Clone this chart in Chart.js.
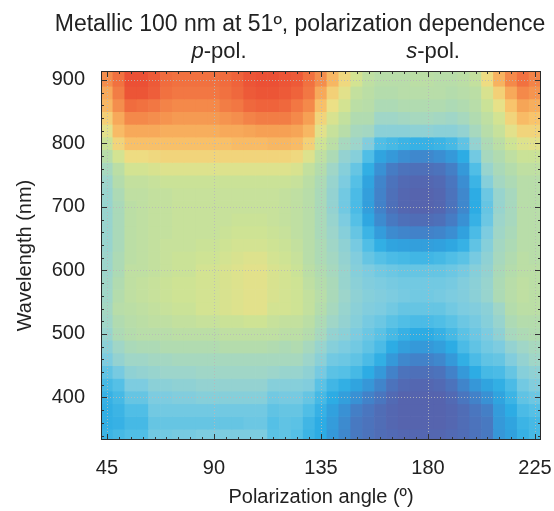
<!DOCTYPE html>
<html>
<head>
<meta charset="utf-8">
<script src="https://cdn.jsdelivr.net/npm/chart.js@4.4.1/dist/chart.umd.min.js"></script>
<style>
  html, body { margin: 0; padding: 0; background: #fff; }
  #wrap { width: 554px; height: 511px; position: relative; }
</style>
</head>
<body>
<div id="wrap"><canvas id="chart"></canvas></div>
<script>
// polarization angle of each column (deg), 5 deg wide cells
const angles = [45, 50, 55, 60, 65, 70, 75, 80, 85, 90, 95, 100, 105, 110, 115, 120, 125, 130,
  135, 140, 145, 150, 155, 160, 165, 170, 175, 180, 185, 190, 195, 200, 205, 210, 215, 220, 225];
// wavelength of each row (nm), 20 nm tall cells
const wavelengths = [900, 880, 860, 840, 820, 800, 780, 760, 740, 720, 700, 680, 660, 640, 620,
  600, 580, 560, 540, 520, 500, 480, 460, 440, 420, 400, 380, 360, 340];
const intensity = [
  [85,90,97,97,95,91,90,90,90,90,91,93,96,97,97,96,95,90,85,77,69,62,57,55,55,55,56,56,55,55,56,58,68,78,86,90,87],
  [80,88,96,96,94,90,89,89,89,89,90,92,95,96,96,95,93,89,80,71,65,58,56,54,54,55,55,55,55,54,55,56,63,71,80,86,84],
  [77,85,91,90,89,87,86,86,86,86,88,89,92,93,93,92,89,86,75,67,62,56,55,52,52,53,53,53,53,52,53,55,60,66,74,81,79],
  [71,80,86,86,85,84,83,83,83,83,84,85,87,88,88,88,86,82,70,63,58,53,53,48,48,49,50,50,49,48,50,53,57,62,70,76,74],
  [65,76,80,80,80,79,79,79,79,79,80,80,81,82,82,82,81,77,65,59,55,50,49,43,43,43,44,44,43,43,45,50,55,59,65,70,70],
  [60,70,75,75,75,75,75,75,75,75,75,76,76,76,77,77,76,71,61,56,50,47,41,32,30,28,27,27,28,30,35,45,52,56,61,64,65],
  [55,62,68,68,69,70,70,70,70,70,70,70,70,70,70,70,69,64,57,52,45,42,32,22,18,14,12,12,14,18,25,38,50,53,57,60,60],
  [50,56,62,62,63,64,64,64,64,64,64,64,64,64,64,64,63,58,54,48,42,36,26,15,8,5,4,4,5,9,18,32,46,51,54,57,57],
  [47,54,58,58,59,60,60,60,60,60,60,60,60,60,60,60,59,56,52,46,40,33,22,11,5,2,1,1,2,6,14,28,42,49,52,55,55],
  [46,52,57,57,58,58,59,59,59,59,59,59,59,59,59,58,57,55,51,45,38,31,20,10,4,1,0,0,1,5,12,25,37,46,50,55,55],
  [46,51,56,57,58,58,59,59,59,59,59,59,59,59,59,58,57,55,51,45,38,31,20,10,4,1,0,0,1,5,12,25,36,46,50,55,55],
  [46,51,56,57,58,58,59,59,59,59,59,60,60,60,59,58,57,55,51,46,40,33,23,13,7,4,3,3,4,8,15,27,37,47,50,55,55],
  [46,51,56,57,58,58,59,59,59,59,60,61,61,61,60,59,57,55,51,47,42,36,28,19,13,11,10,10,11,14,21,31,40,48,51,55,55],
  [46,51,56,57,58,59,59,59,60,60,61,62,62,62,61,60,58,55,52,48,44,39,32,26,22,21,20,20,21,23,27,35,42,49,52,55,55],
  [47,52,56,57,58,59,60,60,61,61,62,63,64,64,62,61,59,55,52,49,45,41,36,33,31,30,29,29,30,32,34,39,44,50,53,56,55],
  [47,52,57,57,58,59,60,60,62,62,63,64,65,65,63,62,60,56,53,50,46,42,40,38,37,36,36,36,36,37,39,42,45,51,54,56,56],
  [48,53,57,58,59,60,61,61,62,62,63,64,65,65,63,62,61,57,54,51,46,43,41,40,39,38,38,38,38,39,41,43,46,52,55,57,56],
  [48,54,57,58,59,60,61,61,62,62,63,64,65,65,63,62,61,58,55,51,47,44,42,41,40,39,38,38,39,40,41,43,46,52,55,57,56],
  [49,55,56,57,58,59,60,60,62,62,63,64,65,65,62,62,61,58,54,50,46,43,41,40,38,36,36,36,36,38,40,41,43,48,54,56,56],
  [48,53,55,56,57,57,58,58,59,59,60,60,61,61,59,58,58,56,52,48,45,42,39,37,34,32,31,31,32,34,37,39,42,46,52,54,54],
  [46,52,54,55,55,55,56,56,56,56,57,57,57,57,57,56,56,54,50,45,43,40,37,34,30,27,25,25,27,30,34,37,40,44,50,52,53],
  [43,48,51,52,52,53,53,53,53,53,54,54,54,54,53,52,53,50,46,42,40,38,35,31,25,20,18,18,20,25,31,35,38,40,45,48,50],
  [40,45,48,48,49,49,50,50,50,50,50,50,50,50,50,50,50,47,43,38,37,35,31,26,18,12,10,10,12,18,26,31,35,36,41,45,48],
  [35,39,44,45,46,47,47,47,48,48,48,48,48,48,47,46,46,44,39,34,33,30,25,18,10,5,4,4,5,10,18,25,30,31,36,42,44],
  [30,33,40,40,43,43,44,44,45,45,45,45,45,45,42,42,42,41,34,29,26,22,17,11,5,2,1,1,2,5,11,17,22,26,31,38,41],
  [27,30,36,36,40,40,41,41,42,42,42,42,42,42,38,39,39,36,30,25,20,15,10,6,2,0,0,0,0,2,6,10,15,22,28,35,37],
  [26,28,32,32,38,38,38,38,38,38,38,38,38,38,35,36,36,32,27,21,15,9,6,3,1,0,0,0,0,1,3,6,9,19,25,31,33],
  [26,27,30,30,36,36,36,36,36,36,36,36,37,37,33,35,34,29,25,19,13,7,5,3,1,0,0,0,0,1,3,5,7,18,22,28,30],
  [28,30,32,32,38,38,39,39,40,40,40,40,40,40,34,35,33,28,25,18,12,7,5,3,2,1,1,1,1,2,3,5,7,17,21,27,30]
];
const xTicks = [45, 90, 135, 180, 225];
const yTicks = [400, 500, 600, 700, 800, 900];
const polLabels = [{ angle: 90, lead: 'p', rest: '-pol.' }, { angle: 180, lead: 's', rest: '-pol.' }];

const FONT = "'Liberation Sans', Arial, Helvetica, sans-serif";
const TEXT = '#222';

// colour scale, dark blue -> cyan -> green -> yellow -> red
const STOPS = [
  [0, [86, 100, 174]], [8, [70, 124, 196]], [16, [55, 148, 214]], [25, [45, 172, 228]],
  [33, [85, 192, 230]], [40, [125, 204, 224]], [47, [157, 213, 203]], [54, [180, 220, 172]],
  [61, [206, 227, 148]], [67, [236, 224, 134]], [74, [248, 196, 108]], [82, [246, 160, 84]],
  [90, [241, 113, 64]], [100, [233, 66, 48]]
];

function colorFor(v) {
  for (let i = 1; i < STOPS.length; i++) {
    if (v <= STOPS[i][0]) {
      const [v0, c0] = STOPS[i - 1];
      const [v1, c1] = STOPS[i];
      const t = (v - v0) / (v1 - v0);
      const c = c0.map((ch, k) => Math.round(ch + (c1[k] - ch) * t));
      return `rgb(${c[0]},${c[1]},${c[2]})`;
    }
  }
  const last = STOPS[STOPS.length - 1][1];
  return `rgb(${last[0]},${last[1]},${last[2]})`;
}

const datasets = wavelengths.map((w, r) => ({
  data: angles.map((a) => ({ x: a, y: [w - 10, r === 0 ? 920 : w + 10] })),
  backgroundColor: intensity[r].map(colorFor),
  borderWidth: 0,
  barPercentage: 1,
  categoryPercentage: 1,
  grouped: false
}));

const frame = {
  id: 'frame',
  afterDatasetsDraw(chart) {
    const { ctx, chartArea: a, scales: { x, y } } = chart;
    const line = (x1, y1, x2, y2) => {
      ctx.beginPath();
      ctx.moveTo(x1, y1);
      ctx.lineTo(x2, y2);
      ctx.stroke();
    };
    ctx.save();
    ctx.lineWidth = 1;

    // dotted grid over the map
    ctx.strokeStyle = 'rgba(185,185,185,0.85)';
    ctx.setLineDash([1, 2]);
    xTicks.forEach((v) => {
      const px = Math.round(x.getPixelForValue(v)) + 0.5;
      line(px, a.top, px, a.bottom);
    });
    yTicks.forEach((v) => {
      const py = Math.round(y.getPixelForValue(v)) + 0.5;
      line(a.left, py, a.right, py);
    });

    // inward tick marks
    ctx.setLineDash([]);
    ctx.strokeStyle = '#333';
    for (let v = 45; v <= 225; v += 5) {
      const len = xTicks.includes(v) ? 6 : 3;
      const px = Math.round(x.getPixelForValue(v)) + 0.5;
      line(px, a.top, px, a.top + len);
      line(px, a.bottom, px, a.bottom - len);
    }
    for (let v = 340; v <= 900; v += 20) {
      const len = v % 100 === 0 ? 6 : 3;
      const py = Math.round(y.getPixelForValue(v)) + 0.5;
      line(a.left, py, a.left + len, py);
      line(a.right, py, a.right - len, py);
    }
    ctx.strokeStyle = '#2b2b2b';
    ctx.strokeRect(a.left + 0.5, a.top + 0.5, a.width - 1, a.height - 1);
    ctx.restore();
  },
  afterDraw(chart) {
    const { ctx, scales: { x } } = chart;
    ctx.save();
    ctx.fillStyle = TEXT;
    ctx.textBaseline = 'alphabetic';
    ctx.textAlign = 'center';
    ctx.font = `23px ${FONT}`;
    ctx.fillText('Metallic 100 nm at 51º, polarization dependence', 300, 31);

    ctx.textAlign = 'left';
    polLabels.forEach((p) => {
      ctx.font = `italic 22px ${FONT}`;
      const w1 = ctx.measureText(p.lead).width;
      ctx.font = `22px ${FONT}`;
      const w2 = ctx.measureText(p.rest).width;
      const cx = x.getPixelForValue(p.angle) + 5;
      const start = cx - (w1 + w2) / 2;
      ctx.font = `italic 22px ${FONT}`;
      ctx.fillText(p.lead, start, 58);
      ctx.font = `22px ${FONT}`;
      ctx.fillText(p.rest, start + w1, 58);
    });
    ctx.restore();
  }
};

new Chart(document.getElementById('chart'), {
  type: 'bar',
  data: { datasets },
  options: {
    responsive: true,
    maintainAspectRatio: false,
    devicePixelRatio: 1,
    animation: false,
    events: [],
    layout: { padding: { top: 71, right: 13, left: 0, bottom: 0 } },
    plugins: { legend: { display: false }, tooltip: { enabled: false }, title: { display: false } },
    scales: {
      x: {
        type: 'linear',
        min: 42.5,
        max: 227.5,
        offset: false,
        afterBuildTicks: (s) => { s.ticks = xTicks.map((v) => ({ value: v })); },
        afterFit: (s) => { s.height = 71; s.paddingLeft = 0; s.paddingRight = 0; },
        grid: { display: false, drawTicks: false },
        border: { display: false },
        ticks: { color: TEXT, font: { family: FONT, size: 20 }, padding: 16, maxRotation: 0, autoSkip: false },
        title: {
          display: true,
          text: 'Polarization angle (º)',
          color: TEXT,
          font: { family: FONT, size: 20 },
          padding: { top: 0, bottom: 2 }
        }
      },
      y: {
        type: 'linear',
        min: 333,
        max: 914,
        afterBuildTicks: (s) => { s.ticks = yTicks.map((v) => ({ value: v })); },
        afterFit: (s) => { s.width = 101; s.paddingTop = 0; s.paddingBottom = 0; },
        grid: { display: false, drawTicks: false },
        border: { display: false },
        ticks: { color: TEXT, font: { family: FONT, size: 20 }, padding: 16 },
        title: {
          display: true,
          text: 'Wavelength (nm)',
          color: TEXT,
          font: { family: FONT, size: 20 },
          padding: { top: 13, bottom: 0 }
        }
      }
    }
  },
  plugins: [frame]
});
</script>
</body>
</html>
